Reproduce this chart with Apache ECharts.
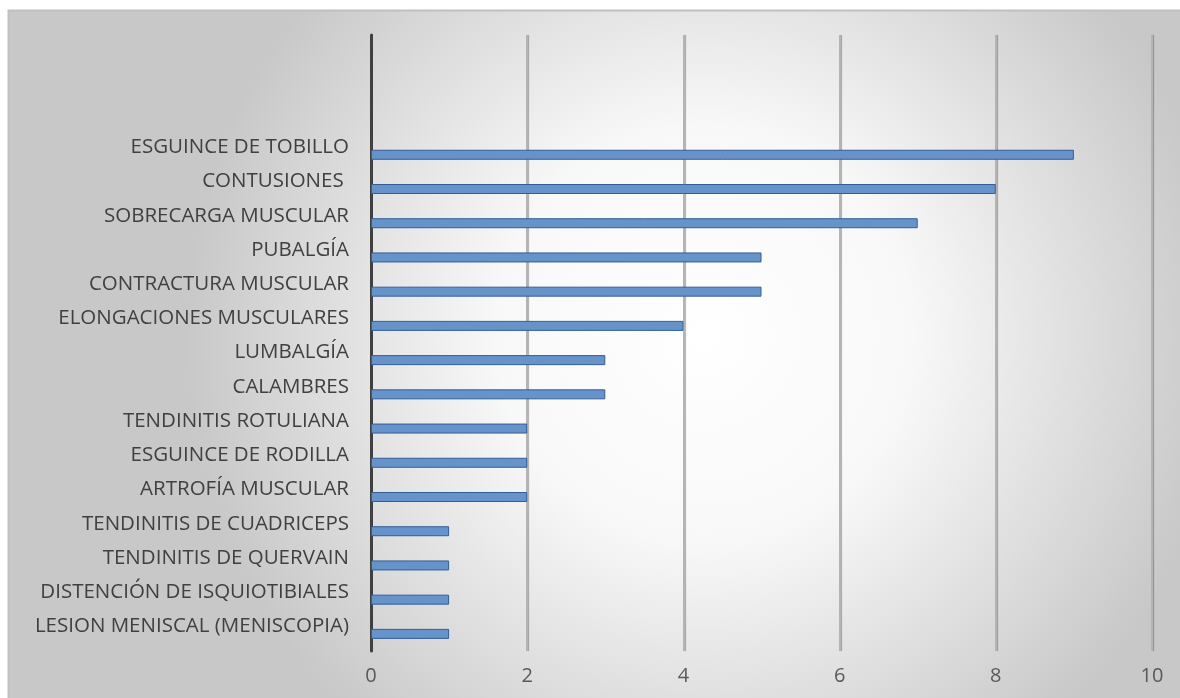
<!DOCTYPE html>
<html>
<head>
<meta charset="utf-8">
<script src="https://cdn.jsdelivr.net/npm/echarts@6/dist/echarts.min.js"></script>
<style>
  html, body { margin: 0; padding: 0; background: #fff; }
  #chart { width: 1180px; height: 698px; }
</style>
</head>
<body>
<div id="chart"></div>
<script>
// categories top to bottom (first three slots are empty in the original)
const categories = [
  "", "", "",
  "ESGUINCE DE TOBILLO",
  "CONTUSIONES ",
  "SOBRECARGA MUSCULAR",
  "PUBALGÍA",
  "CONTRACTURA MUSCULAR",
  "ELONGACIONES MUSCULARES",
  "LUMBALGÍA",
  "CALAMBRES",
  "TENDINITIS ROTULIANA",
  "ESGUINCE DE RODILLA",
  "ARTROFÍA MUSCULAR",
  "TENDINITIS DE CUADRICEPS",
  "TENDINITIS DE QUERVAIN",
  "DISTENCIÓN DE ISQUIOTIBIALES",
  "LESION MENISCAL (MENISCOPIA)"
];
const values = [null, null, null, 9, 8, 7, 5, 5, 4, 3, 3, 2, 2, 2, 1, 1, 1, 1];
const xTicks = [0, 2, 4, 6, 8, 10];

const fontFamily = "'Open Sans', sans-serif";

const chart = echarts.init(document.getElementById("chart"));
chart.setOption({
  animation: false,
  graphic: [
    {
      type: "rect",
      z: -10,
      silent: true,
      shape: { x: 8.5, y: 10.5, width: 1200, height: 720 },
      style: {
        fill: new echarts.graphic.RadialGradient(0.58, 0.45, 0.72, [
          { offset: 0, color: "#ffffff" },
          { offset: 0.4, color: "#f8f8f8" },
          { offset: 1, color: "#c8c8c8" }
        ]),
        stroke: "#c0c0c0",
        lineWidth: 2
      }
    }
  ],
  grid: {
    left: 371,
    right: 28,
    top: 35,
    bottom: 47
  },
  xAxis: {
    type: "value",
    min: 0,
    max: 10,
    interval: 2,
    axisLine: { show: false },
    axisTick: { show: false },
    axisLabel: {
      margin: 15,
      fontSize: 20,
      color: "#595959",
      fontFamily,
      formatter: (v) => (xTicks.includes(v) ? String(v) : "")
    },
    splitLine: {
      show: true,
      showMinLine: false,
      lineStyle: {
        color: "#b4b4b4",
        width: 2,
        shadowColor: "rgba(0,0,0,0.3)",
        shadowBlur: 1,
        shadowOffsetX: 1
      }
    }
  },
  yAxis: {
    type: "category",
    inverse: true,
    data: categories,
    axisLine: { show: true, lineStyle: { color: "#404040", width: 3 } },
    axisTick: { show: false },
    axisLabel: {
      margin: 22,
      fontSize: 20.5,
      color: "#404040",
      fontFamily,
      verticalAlign: "bottom",
      lineHeight: 15
    }
  },
  series: [
    {
      type: "bar",
      data: values,
      barWidth: 10,
      itemStyle: {
        color: "#6793cb",
        borderColor: "#335e94",
        borderWidth: 1
      }
    }
  ]
});
</script>
</body>
</html>
